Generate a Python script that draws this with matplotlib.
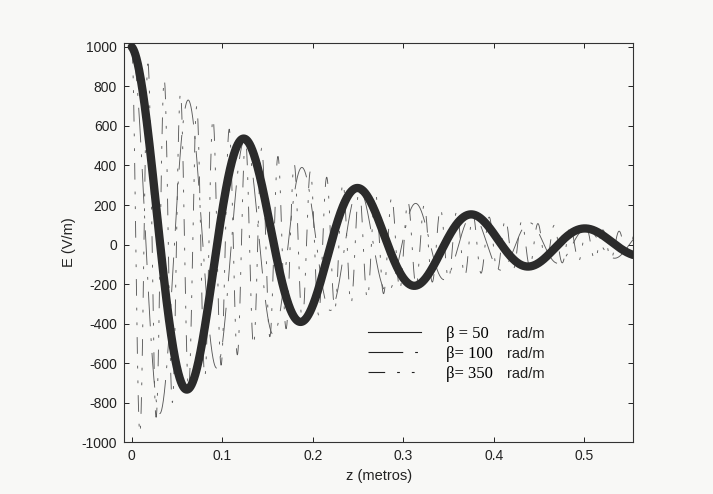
import numpy as np
import matplotlib
matplotlib.use("Agg")
import matplotlib.pyplot as plt
from matplotlib.lines import Line2D

# Chart parameters: E(z) = E0 * exp(-alpha z) * cos(beta z)
E0 = 1000.0            # V/m, amplitude at z = 0
alpha = 5.0            # Np/m, attenuation read from peak decay
betas = [50, 100, 350]  # rad/m, from legend
legend_labels = ["β = 50", "β= 100", "β= 350"]
z_max = 0.554
x_ticks = [0, 0.1, 0.2, 0.3, 0.4, 0.5]
x_ticklabels = ["0", "0.1", "0.2", "0.3", "0.4", "0.5"]
y_ticks = list(range(-1000, 1001, 200))

plt.rcParams['lines.scale_dashes'] = False
plt.rcParams['axes.unicode_minus'] = False
plt.rcParams['font.family'] = ['Liberation Sans', 'DejaVu Sans']

bg = '#f8f8f6'
fig = plt.figure(figsize=(7.13, 4.94), dpi=100, facecolor=bg)
ax = fig.add_axes([0.174, 0.105, 0.714, 0.808], facecolor=bg)

z = np.linspace(0, z_max, 4000)
curves = [E0 * np.exp(-alpha * z) * np.cos(b * z) for b in betas]

dash_100 = (0, (25, 8.6, 2, 8.6))
dash_350 = (0, (12, 8.6, 2, 8.6, 2, 8.6))
thin_col = '#5a5a5a'

ax.plot(z, curves[2], color=thin_col, lw=0.65, linestyle=dash_350, zorder=2)
ax.plot(z, curves[1], color=thin_col, lw=0.65, linestyle=dash_100, zorder=2)
ax.plot(z, curves[0], color='#2b2b2b', lw=6.0, solid_capstyle='round',
        solid_joinstyle='round', zorder=3)

ax.set_xlim(-0.0085, z_max)
ax.set_ylim(-1000, 1020)
ax.set_xticks(x_ticks)
ax.set_xticklabels(x_ticklabels)
ax.set_yticks(y_ticks)
ax.tick_params(direction='in', length=3.5, width=0.7, top=True, right=True,
               labelsize=10, colors='#222222', pad=5)
for s in ax.spines.values():
    s.set_linewidth(0.8)
    s.set_color('#333333')

ax.set_xlabel("z (metros)", fontsize=10.5, color='#222222', labelpad=4)
ax.set_ylabel("E (V/m)", fontsize=10.5, color='#222222', labelpad=4)

handles = [Line2D([], [], color='#222222', lw=0.8, linestyle='-'),
           Line2D([], [], color='#222222', lw=0.8, linestyle=dash_100),
           Line2D([], [], color='#222222', lw=0.8, linestyle=dash_350)]
leg = ax.legend(handles, legend_labels, loc='upper left',
                bbox_to_anchor=(0.479, 0.292), frameon=False,
                prop={'family': ['Liberation Serif', 'DejaVu Serif'], 'size': 12},
                handlelength=3.2, handletextpad=1.5, labelspacing=0.25,
                borderpad=0.0, borderaxespad=0.0)
fig.canvas.draw()
inv = fig.transFigure.inverted()
for t in leg.get_texts():
    bb = t.get_window_extent()
    (x0, y0), (x1, y1) = inv.transform([[bb.x0, bb.y0], [bb.x1, bb.y1]])
    fig.text(0.711, (y0 + y1) / 2, "rad/m", fontsize=10.5, color='#222222',
             va='center', ha='left')

fig.savefig("out.png", dpi=100, facecolor=bg)
